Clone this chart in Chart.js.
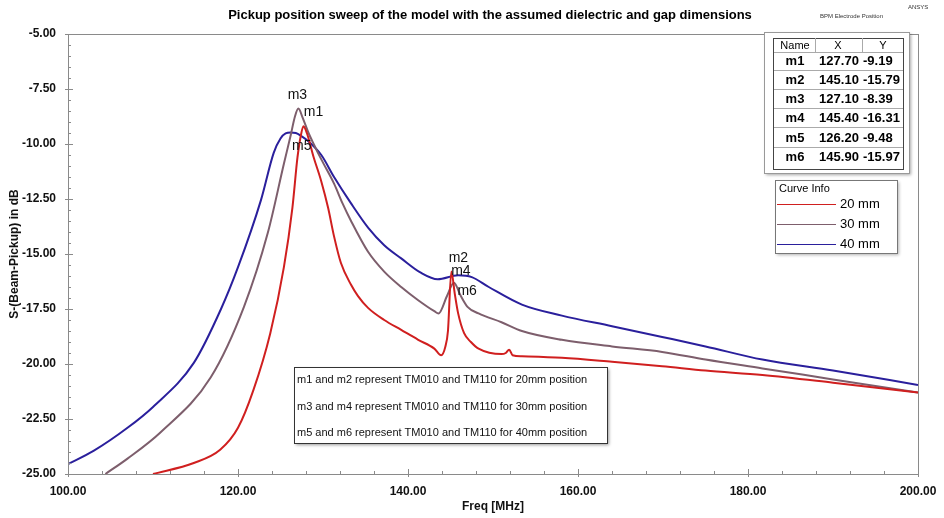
<!DOCTYPE html>
<html>
<head>
<meta charset="utf-8">
<script src="https://cdn.jsdelivr.net/npm/chart.js@4/dist/chart.umd.min.js"></script>
<style>
  html, body { margin: 0; padding: 0; background: #fff; }
  #myChart { display: block; }
</style>
</head>
<body>
<canvas id="myChart" width="944" height="518"></canvas>
<script>
// sweep results, freq in MHz, S in dB
let freq20 = [110, 114.8, 117.9, 120, 121.8, 123.8, 125.4, 126.4, 127.0, 127.4, 127.7, 128.1, 128.9, 129.8, 130.6, 131.3, 132.1, 133.3, 134.1, 135.3, 137.2, 139.2, 141.2, 143.1, 143.9, 144.4, 144.7, 145.1, 145.5, 145.9, 146.6, 147.4, 148.3, 151, 151.5, 151.9, 152.3, 153.4, 158.1, 164, 169.9, 175, 181.7, 190, 200]
let db20 = [-25, -24.5, -23.9, -22.9, -21.2, -18.6, -15.6, -12.9, -10.6, -9.6, -9.19, -9.5, -10.6, -11.7, -12.9, -14.2, -15.4, -16.4, -16.9, -17.45, -18.0, -18.45, -18.9, -19.3, -19.6, -19.2, -18.5, -15.79, -16.8, -17.7, -18.6, -19.0, -19.3, -19.55, -19.5, -19.35, -19.6, -19.65, -19.72, -19.9, -20.1, -20.3, -20.5, -20.85, -21.3]

let freq30 = [104.4, 107, 110.9, 116.8, 120.7, 123.5, 125.4, 126.2, 126.7, 127.1, 127.6, 128.3, 128.9, 129.8, 131.3, 132.3, 133.3, 135.3, 137.2, 139.2, 141.2, 143.1, 143.6, 144.6, 145.4, 146.2, 147, 148.3, 151, 153.4, 158.1, 164, 169.9, 175, 181.7, 190, 200]
let db30 = [-25, -24.3, -23.1, -20.6, -17.4, -14.05, -10.9, -9.6, -8.75, -8.39, -8.8, -9.5, -10.0, -10.7, -11.8, -12.7, -13.5, -14.9, -15.8, -16.5, -17.1, -17.6, -17.7, -16.9, -16.31, -16.9, -17.4, -17.7, -18.1, -18.5, -18.9, -19.2, -19.45, -19.8, -20.2, -20.7, -21.3]

let freq40 = [100, 103, 107, 110, 114.8, 118, 120, 122.7, 124.2, 125.0, 125.6, 126.2, 126.8, 127.5, 128.2, 129.8, 131.3, 133.3, 135.3, 137.2, 139.2, 141.5, 143.5, 145.9, 147.5, 149.5, 153.4, 158.1, 164, 169.9, 175, 181.7, 190, 200]
let db40 = [-24.55, -23.95, -22.9, -21.95, -19.95, -17.5, -15.6, -12.55, -10.4, -9.75, -9.52, -9.48, -9.5, -9.65, -9.85, -10.5, -11.5, -12.7, -13.8, -14.6, -15.2, -15.85, -16.15, -15.97, -16.05, -16.5, -17.3, -17.8, -18.28, -18.77, -19.2, -19.8, -20.3, -20.95]

let curveNames = ['20 mm', '30 mm', '40 mm']
let curveColors = ['#d01f1f', '#7d5e6c', '#2a1f9c']

// marker table (HFSS markers)
let markerNames = ['m1', 'm2', 'm3', 'm4', 'm5', 'm6']
let markerX = [127.70, 145.10, 127.10, 145.40, 126.20, 145.90]
let markerY = [-9.19, -15.79, -8.39, -16.31, -9.48, -15.97]

let noteLines = [
    'm1 and m2 represent TM010 and TM110 for 20mm position',
    'm3 and m4 represent TM010 and TM110 for 30mm position',
    'm5 and m6 represent TM010 and TM110 for 40mm position'
]

let xTicks = [100, 120, 140, 160, 180, 200]
let yTicks = [-25, -22.5, -20, -17.5, -15, -12.5, -10, -7.5, -5]

const toPoints = (fs, vs) => fs.map((f, i) => ({ x: f, y: vs[i] }))

// label offsets from each marker point (px)
const markerOffsets = {
    m1: [10, -14], m2: [7, -13], m3: [-1, -13],
    m4: [7, -12], m5: [11, 14], m6: [9, 16]
}

const extras = {
    id: 'extras',
    afterDraw(chart) {
        const c = chart.ctx
        const a = chart.chartArea
        const xs = chart.scales.x
        const ys = chart.scales.y
        c.save()

        // frame + ticks
        c.strokeStyle = '#8a8a8a'
        c.lineWidth = 1
        c.strokeRect(a.left + 0.5, a.top + 0.5, a.right - a.left, a.bottom - a.top)
        c.beginPath()
        for (let v = -25; v <= -5.001 + 0.5; v += 0.5) {
            const y = Math.round(ys.getPixelForValue(v)) + 0.5
            const major = Math.abs(v / 2.5 - Math.round(v / 2.5)) < 1e-6
            c.moveTo(a.left - (major ? 3 : 0), y)
            c.lineTo(a.left + (major ? 5 : 3), y)
        }
        for (let f = 100; f <= 200; f += 4) {
            const x = Math.round(xs.getPixelForValue(f)) + 0.5
            const major = (f - 100) % 20 === 0
            c.moveTo(x, a.bottom + (major ? 3 : 0))
            c.lineTo(x, a.bottom - (major ? 5 : 3))
        }
        c.stroke()

        // title
        c.fillStyle = '#000'
        c.font = 'bold 13px "Liberation Sans", Arial, sans-serif'
        c.textAlign = 'center'
        c.textBaseline = 'middle'
        c.fillText('Pickup position sweep of the model with the assumed dielectric and gap dimensions', 490, 15)
        c.font = '6px "Liberation Sans", Arial, sans-serif'
        c.fillStyle = '#333'
        c.textAlign = 'left'
        c.fillText('BPM Electrode Position', 820, 16)
        c.fillText('ANSYS', 908, 7)

        // marker labels
        c.font = '14px "Liberation Sans", Arial, sans-serif'
        c.fillStyle = '#111'
        c.textAlign = 'center'
        markerNames.forEach((n, i) => {
            const px = xs.getPixelForValue(markerX[i])
            const py = ys.getPixelForValue(markerY[i])
            const o = markerOffsets[n]
            c.fillText(n, px + o[0], py + o[1])
        })

        // marker table
        c.fillStyle = '#fff'
        c.shadowColor = 'rgba(0,0,0,0.35)'
        c.shadowOffsetX = 2
        c.shadowOffsetY = 2
        c.shadowBlur = 3
        c.fillRect(764, 32, 145, 141)
        c.shadowColor = 'transparent'
        c.strokeStyle = '#999'
        c.strokeRect(764.5, 32.5, 145, 141)
        c.strokeStyle = '#444'
        c.strokeRect(773.5, 38.5, 130, 131)
        c.beginPath()
        c.moveTo(815.5, 38); c.lineTo(815.5, 52)
        c.moveTo(862.5, 38); c.lineTo(862.5, 52)
        const rowLines = [52, 70, 89, 108, 127, 147]
        rowLines.forEach(y => { c.moveTo(774, y + 0.5); c.lineTo(903, y + 0.5) })
        c.strokeStyle = '#aaa'
        c.stroke()
        c.fillStyle = '#000'
        c.font = '11px "Liberation Sans", Arial, sans-serif'
        c.textAlign = 'center'
        c.fillText('Name', 795, 46)
        c.fillText('X', 838, 46)
        c.fillText('Y', 883, 46)
        c.font = 'bold 13px "Liberation Sans", Arial, sans-serif'
        markerNames.forEach((n, i) => {
            const y = 61 + i * 19.3
            c.textAlign = 'center'
            c.fillText(n, 795, y)
            c.fillText(markerX[i].toFixed(2), 839, y)
            c.textAlign = 'left'
            c.fillText(markerY[i].toFixed(2), 863, y)
        })

        // curve info box
        c.fillStyle = '#fff'
        c.shadowColor = 'rgba(0,0,0,0.3)'
        c.shadowOffsetX = 2
        c.shadowOffsetY = 2
        c.shadowBlur = 3
        c.fillRect(775, 180, 122, 73)
        c.shadowColor = 'transparent'
        c.strokeStyle = '#777'
        c.strokeRect(775.5, 180.5, 122, 73)
        c.fillStyle = '#000'
        c.font = '11px "Liberation Sans", Arial, sans-serif'
        c.textAlign = 'left'
        c.fillText('Curve Info', 779, 189)
        c.font = '13px "Liberation Sans", Arial, sans-serif'
        curveNames.forEach((n, i) => {
            const y = 204 + i * 20
            c.strokeStyle = curveColors[i]
            c.lineWidth = 1
            c.beginPath()
            c.moveTo(777, y + 0.5)
            c.lineTo(836, y + 0.5)
            c.stroke()
            c.fillText(n, 840, y)
        })

        // note box
        c.fillStyle = '#fff'
        c.shadowColor = 'rgba(0,0,0,0.4)'
        c.shadowOffsetX = 2
        c.shadowOffsetY = 2
        c.shadowBlur = 3
        c.fillRect(294, 367, 313, 76)
        c.shadowColor = 'transparent'
        c.strokeStyle = '#333'
        c.strokeRect(294.5, 367.5, 313, 76)
        c.fillStyle = '#111'
        c.font = '11px "Liberation Sans", Arial, sans-serif'
        noteLines.forEach((t, i) => c.fillText(t, 297, 380 + i * 26.5))

        c.restore()
    }
}

const ctx = document.getElementById('myChart').getContext('2d')

let myChart = new Chart(ctx, {
    type: 'line',
    data: {
        datasets: [
            { label: curveNames[0], data: toPoints(freq20, db20), borderColor: curveColors[0] },
            { label: curveNames[1], data: toPoints(freq30, db30), borderColor: curveColors[1] },
            { label: curveNames[2], data: toPoints(freq40, db40), borderColor: curveColors[2] }
        ]
    },
    options: {
        responsive: false,
        animation: false,
        layout: { padding: { top: 34, right: 26, left: 7, bottom: 0 } },
        elements: {
            point: { radius: 0 },
            line: { borderWidth: 2, cubicInterpolationMode: 'monotone' }
        },
        plugins: {
            legend: { display: false },
            tooltip: { enabled: false }
        },
        scales: {
            x: {
                type: 'linear',
                min: 100,
                max: 200,
                afterFit: (s) => { s.height = 44 },
                afterBuildTicks: (s) => { s.ticks = xTicks.map(v => ({ value: v })) },
                grid: { display: false },
                border: { display: false },
                ticks: {
                    color: '#111',
                    padding: 2,
                    maxRotation: 0,
                    font: { family: '"Liberation Sans", Arial', size: 12, weight: 'bold' },
                    callback: (v) => v.toFixed(2)
                },
                title: {
                    display: true,
                    text: 'Freq [MHz]',
                    color: '#111',
                    padding: { top: 3 },
                    font: { family: '"Liberation Sans", Arial', size: 12, weight: 'bold' }
                }
            },
            y: {
                min: -25,
                max: -5,
                afterFit: (s) => { s.width = 61 },
                afterBuildTicks: (s) => { s.ticks = yTicks.map(v => ({ value: v })) },
                grid: { display: false },
                border: { display: false },
                ticks: {
                    color: '#111',
                    padding: 4,
                    font: { family: '"Liberation Sans", Arial', size: 12, weight: 'bold' },
                    callback: (v) => v.toFixed(2)
                },
                title: {
                    display: true,
                    text: 'S-(Beam-Pickup) in dB',
                    color: '#111',
                    padding: 0,
                    font: { family: '"Liberation Sans", Arial', size: 12, weight: 'bold' }
                }
            }
        }
    },
    plugins: [extras]
})
</script>
</body>
</html>
